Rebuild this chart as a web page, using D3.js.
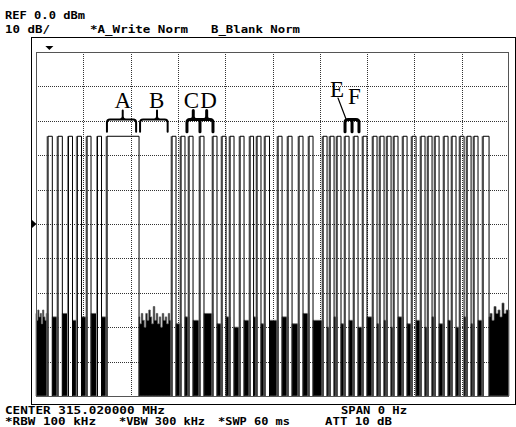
<!DOCTYPE html>
<html>
<head>
<meta charset="utf-8">
<script src="https://cdn.jsdelivr.net/npm/d3@7"></script>
<style>
  body { margin: 0; background: #fff; }
  svg { display: block; }
</style>
</head>
<body>
<div id="chart"></div>
<script>
// Sweep settings
var sweepMs = 60;          // *SWP 60 ms, span 0 Hz -> time axis
var refLevel = 0;          // REF 0.0 dBm
var dbPerDiv = 10;         // 10 dB/

// Pulse start / end times (ms)
var pulseStart = [1.52, 2.79, 4.12, 5.24, 6.47, 7.80, 9.01,
  17.25, 18.39, 19.41, 20.80, 22.45, 23.60, 24.61, 25.88, 27.15, 28.03, 29.05,
  30.70, 31.97, 33.36, 34.63, 36.41, 37.30, 38.18, 39.20, 40.34, 41.48, 42.75,
  43.64, 44.53, 45.41, 46.56, 47.70, 48.84, 49.73, 50.62, 51.76, 52.77, 53.79,
  54.68, 55.56, 56.71];
var pulseEnd = [2.07, 3.34, 4.63, 5.77, 6.98, 8.31, 13.07,
  17.76, 18.90, 19.92, 21.31, 22.96, 24.11, 25.12, 26.39, 27.60, 28.54, 29.62,
  31.21, 32.48, 33.87, 35.14, 36.92, 37.81, 38.69, 39.71, 40.85, 41.99, 43.26,
  44.15, 45.04, 45.92, 47.07, 48.21, 49.35, 50.24, 51.13, 52.27, 53.28, 54.30,
  55.19, 56.07, 57.47];
var pulseLevel = -24.5;    // dBm, top of every pulse

// Noise floor top (dBm) in each gap, before first pulse .. after last pulse
var gapNoise = [-75, -77, -76, -78, -77, -76, -77, -76,
  -79, -77, -78, -76, -79, -77, -80, -78, -77, -79, -78,
  -77, -79, -76, -78, -80, -77, -79, -78, -80, -77, -79,
  -78, -80, -77, -79, -78, -80, -77, -79, -78, -80, -77,
  -79, -78, -75];
// jagged noise envelope (dBm) across the three wide gaps: start, B, end
var noiseStartEnv = [-76, -78, -75, -77, -76, -79, -75, -77, -78, -76];
var noiseBEnv = [-77, -79, -76, -78, -80, -76, -78, -75, -77, -79, -74, -78, -76, -79, -77, -80, -76, -78, -77, -79, -76, -78];
var noiseEndEnv = [-77, -76, -78, -74, -76, -75, -77, -73, -76, -75];

// Annotation braces: legs (ms) and tips (ms)
var braceLabels = ["A", "B", "C", "D", "E", "F"];
var braceLegs = [[9.0, 12.7], [13.2, 16.7], [19.15, 20.8, 22.45], [39.2, 40.09, 40.97]];
var braceTips = [[11.0], [15.35], [19.95, 21.65], [39.6, 40.5]];

// Header / footer texts
var headTexts = ["REF 0.0 dBm", "10 dB/", "*A_Write Norm", "B_Blank Norm"];
var footTexts = ["CENTER 315.020000 MHz", "SPAN 0 Hz", "*RBW 100 kHz", "*VBW 300 kHz", "*SWP 60 ms", "ATT 10 dB"];

var width = 516, height = 427;
var gx0 = 36, gx1 = 509, gy0 = 52, gy1 = 396;

var svg = d3.select("#chart").append("svg")
  .attr("width", width)
  .attr("height", height);

var x = d3.scaleLinear().domain([0, sweepMs]).range([gx0, gx1]);
var y = d3.scaleLinear().domain([refLevel - 10 * dbPerDiv, refLevel]).range([gy1, gy0]);

// outer frame
svg.append("rect")
  .attr("x", 31.5).attr("y", 37.5)
  .attr("width", 484).attr("height", 367)
  .attr("fill", "none")
  .attr("stroke", "#000");

// graticule
var grid = svg.append("g").attr("class", "grid");
grid.selectAll(".vx")
  .data(d3.range(1, 10))
  .enter().append("line")
  .attr("x1", d => Math.round(x(d * 6)) + 0.5)
  .attr("x2", d => Math.round(x(d * 6)) + 0.5)
  .attr("y1", gy0).attr("y2", gy1)
  .attr("stroke", "#333")
  .attr("stroke-dasharray", "1,1");
grid.selectAll(".hy")
  .data(d3.range(1, 10))
  .enter().append("line")
  .attr("x1", gx0).attr("x2", gx1)
  .attr("y1", d => Math.round(y(-d * 10)) + 0.5)
  .attr("y2", d => Math.round(y(-d * 10)) + 0.5)
  .attr("stroke", "#333")
  .attr("stroke-dasharray", "1,1");

// noise floor in the gaps
var gaps = gapNoise.map(function (n, i) {
  var s = i === 0 ? 0 : pulseEnd[i - 1];
  var e = i === pulseStart.length ? sweepMs : pulseStart[i];
  return { s: s, e: e, n: n };
});
var envs = {};
envs[0] = noiseStartEnv;
envs[7] = noiseBEnv;
envs[gaps.length - 1] = noiseEndEnv;

var area = d3.area()
  .curve(d3.curveStep)
  .x(d => x(d.t))
  .y0(gy1)
  .y1(d => y(d.v));

var ng = svg.append("g");
gaps.forEach(function (g, i) {
  var env = envs[i] || [g.n];
  var step = (g.e - g.s) / env.length;
  var pts = env.map((v, k) => ({ t: g.s + k * step, v: v }));
  pts.push({ t: g.e, v: env[env.length - 1] });
  ng.append("path")
    .attr("d", area(pts))
    .attr("fill", "#000")
    .attr("stroke", "#666")
    .attr("stroke-width", 0.8);
});

// pulses: grey rising edge, black top and falling edge
var pulses = pulseStart.map((s, i) => ({ s: s, e: pulseEnd[i] }));
var pg = svg.append("g");
pg.selectAll(".rise")
  .data(pulses)
  .enter().append("line")
  .attr("x1", d => x(d.s) - 0.5).attr("x2", d => x(d.s) - 0.5)
  .attr("y1", y(pulseLevel)).attr("y2", gy1)
  .attr("stroke", "#888")
  .attr("stroke-width", 2);
pg.selectAll(".top")
  .data(pulses)
  .enter().append("path")
  .attr("d", d => "M" + x(d.s) + "," + gy1 + "V" + y(pulseLevel) + "H" + x(d.e) + "V" + gy1)
  .attr("fill", "none")
  .attr("stroke", "#000")
  .attr("stroke-width", 1);

// grid border
svg.append("rect")
  .attr("x", gx0 + 0.5).attr("y", gy0 + 0.5)
  .attr("width", gx1 - gx0 - 1).attr("height", gy1 - gy0)
  .attr("fill", "none")
  .attr("stroke", "#555");

// markers
svg.append("path")
  .attr("d", "M" + (x(1.7) - 4) + ",46L" + (x(1.7) + 4) + ",46L" + x(1.7) + ",50Z")
  .attr("fill", "#000");
svg.append("path")
  .attr("d", "M32," + (y(-50) - 4) + "L36.5," + y(-50) + "L32," + (y(-50) + 4) + "Z")
  .attr("fill", "#000");

// braces, drawn as curly brackets
var braceTop = y(-19.6), braceLeg = y(-23.2), r = 3;
var bg = svg.append("g").attr("fill", "none").attr("stroke", "#000")
  .attr("stroke-linecap", "round");
braceLegs.forEach(function (legs, i) {
  var bold = legs.length > 2;
  var tipH = i === 3 ? 0 : 9;
  var p = d3.path();
  legs.forEach(function (l, k) {
    var dir = k === 0 ? 1 : (k === legs.length - 1 ? -1 : 0);
    p.moveTo(x(l), braceLeg);
    if (dir === 0) { p.lineTo(x(l), braceTop); }
    else {
      p.lineTo(x(l), braceTop + r);
      p.quadraticCurveTo(x(l), braceTop, x(l) + dir * r, braceTop);
    }
  });
  p.moveTo(x(legs[0]) + r, braceTop);
  p.lineTo(x(legs[legs.length - 1]) - r, braceTop);
  braceTips[i].forEach(function (t) {
    if (tipH === 0) return;
    p.moveTo(x(t) - r, braceTop);
    p.quadraticCurveTo(x(t), braceTop, x(t), braceTop - r);
    p.lineTo(x(t), braceTop - tipH);
    p.moveTo(x(t) + r, braceTop);
    p.quadraticCurveTo(x(t), braceTop, x(t), braceTop - r);
  });
  bg.append("path").attr("d", p.toString()).attr("stroke-width", bold ? 3 : 2);
});
// E leader
bg.append("line")
  .attr("x1", 338).attr("y1", 98)
  .attr("x2", x(39.3)).attr("y2", braceTop - 1)
  .attr("stroke-width", 1.2);

var labelPos = [[11.0, 108], [15.3, 108], [19.7, 108], [21.9, 108], [38.2, 97], [40.4, 104]];
svg.append("g").selectAll("text")
  .data(braceLabels)
  .enter().append("text")
  .attr("x", (d, i) => x(labelPos[i][0]))
  .attr("y", (d, i) => labelPos[i][1])
  .attr("text-anchor", "middle")
  .style("font-family", "'Liberation Serif', serif")
  .style("font-size", "23px")
  .text(d => d);

// header and footer in the analyzer's screen font
var textPos = [[5, 19, 80], [5, 33, 45], [90, 33, 98], [211, 33, 89],
  [5, 414, 160], [341, 414, 66], [5, 424.5, 91], [119, 424.5, 86], [218, 424.5, 72], [325, 424.5, 67]];
var allTexts = headTexts.concat(footTexts);
svg.append("g").selectAll("text")
  .data(allTexts)
  .enter().append("text")
  .attr("x", (d, i) => textPos[i][0])
  .attr("y", (d, i) => textPos[i][1])
  .attr("textLength", (d, i) => textPos[i][2])
  .attr("lengthAdjust", "spacingAndGlyphs")
  .style("font-family", "'DejaVu Sans Mono', monospace")
  .style("font-size", "10.5px")
  .style("font-weight", "bold")
  .text(d => d);
</script>
</body>
</html>
